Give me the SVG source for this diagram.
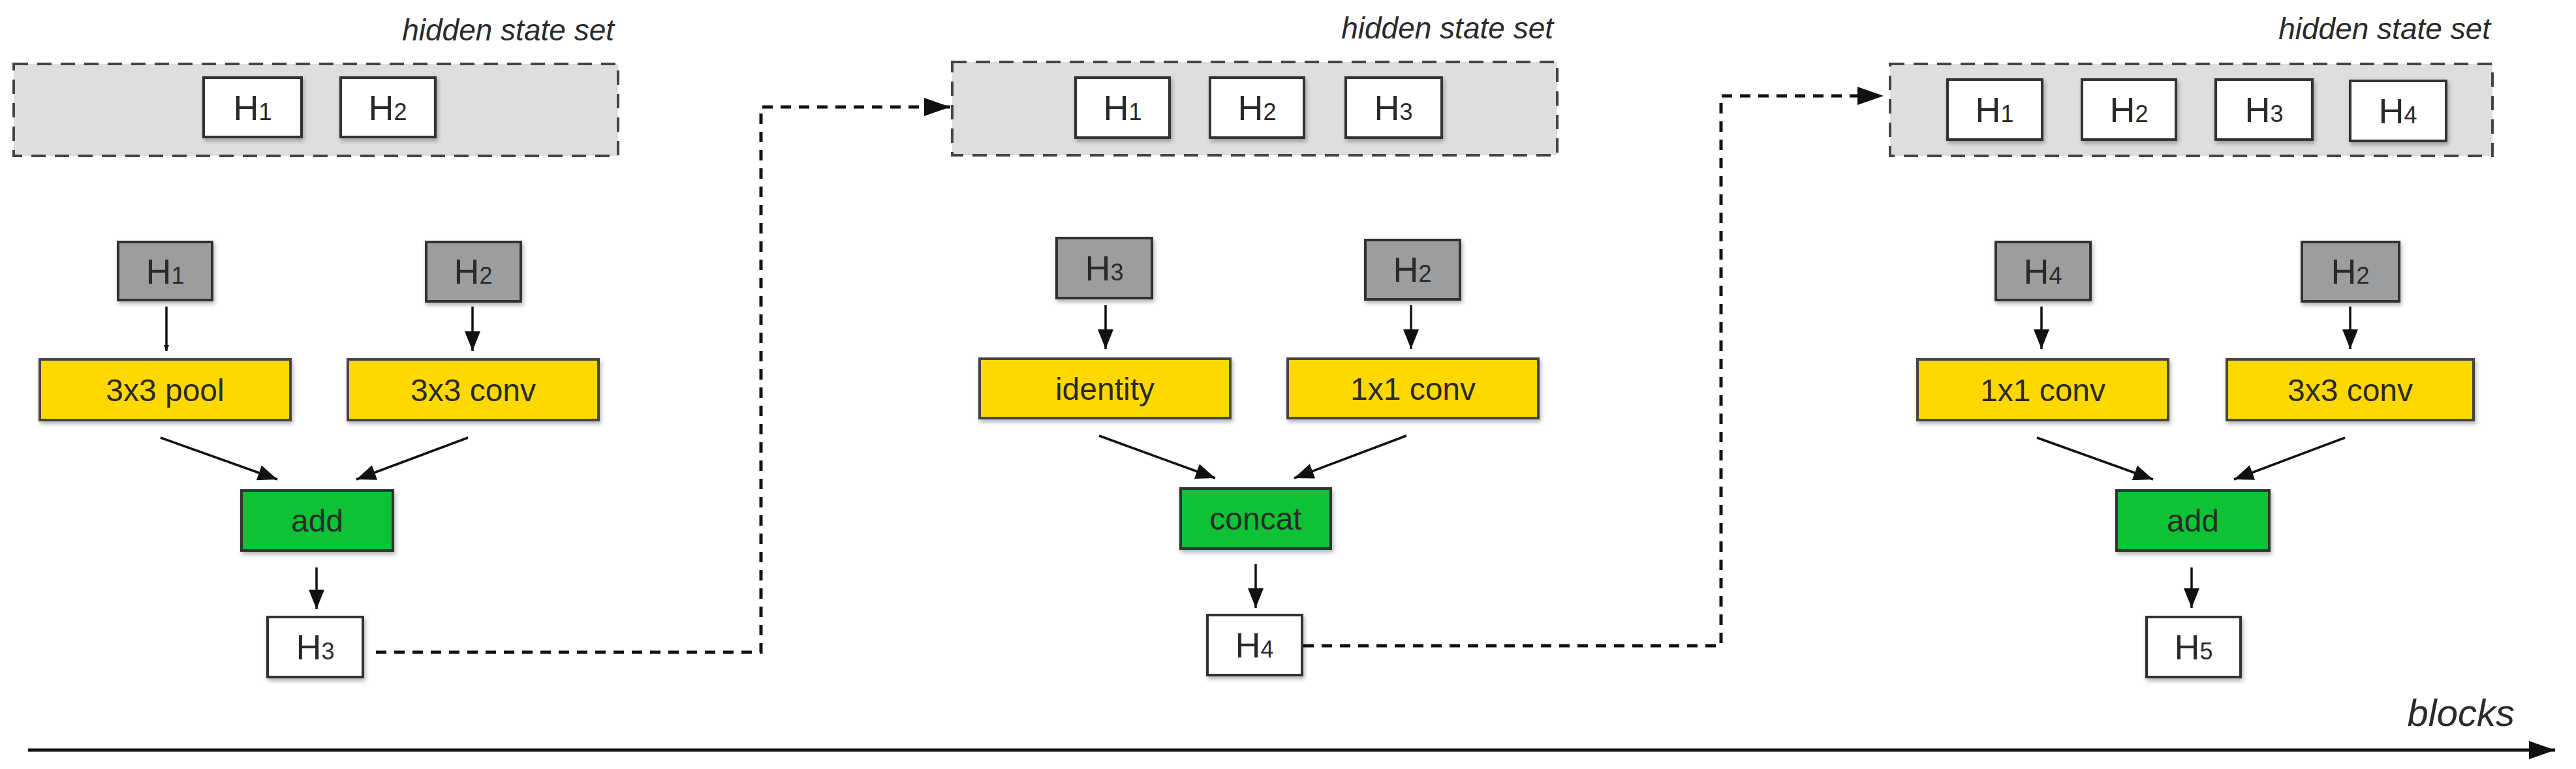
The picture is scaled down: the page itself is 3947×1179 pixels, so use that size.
<svg xmlns="http://www.w3.org/2000/svg" width="3947" height="1179" viewBox="0 0 3947 1179">
<style>
text{font-family:"Liberation Sans",Arial,sans-serif;fill:#2a2a2a;text-anchor:middle}
.set{fill:#dcdee0;stroke:#444;stroke-width:4;stroke-dasharray:22 14}
.w{fill:#fff;stroke:#333;stroke-width:4;filter:url(#sh)}
.g{fill:#9b9d9e;stroke:#333;stroke-width:4;filter:url(#sh)}
.y{fill:#ffd800;stroke:#444;stroke-width:4;filter:url(#sh)}
.gr{fill:#0fc236;stroke:#333;stroke-width:4;filter:url(#sh)}
.h{font-size:54px}
.s{font-size:36px}
.op{font-size:48px}
.title{font-size:46px;font-style:italic;text-anchor:end}
.c{stroke:#111;stroke-width:3.5;fill:none;marker-end:url(#a)}
.d{stroke:#111;stroke-width:5;fill:none;stroke-dasharray:16 12;marker-end:url(#b)}
</style>
<defs>
<filter id="sh" x="-10%" y="-10%" width="130%" height="140%"><feDropShadow dx="2" dy="4" stdDeviation="3" flood-opacity="0.3"/></filter>
<marker id="a" markerWidth="10" markerHeight="8" refX="9" refY="4" orient="auto" markerUnits="userSpaceOnUse" viewBox="0 0 10 8"><path d="M0,0L10,4L0,8z" fill="#111"/></marker>
<marker id="b" markerWidth="40" markerHeight="28" refX="40" refY="14" orient="auto" markerUnits="userSpaceOnUse"><path d="M0,0L40,14L0,28z" fill="#111"/></marker>
</defs>
<g id="connectors">
<line class="c" x1="255" y1="470" x2="255" y2="538" style="stroke-width:3.5" marker-end="url(#m)"/>
</g>
<defs><marker id="m" markerWidth="30" markerHeight="24" refX="30" refY="12" orient="auto" markerUnits="userSpaceOnUse"><path d="M0,0L30,12L0,24z" fill="#111"/></marker></defs>
<g id="conn" style="stroke:#111;stroke-width:3.5;fill:none" marker-end="url(#m)">
<line x1="724" y1="470" x2="724" y2="538"/>
<line x1="246" y1="671" x2="425" y2="735"/>
<line x1="717" y1="671" x2="546" y2="735"/>
<line x1="485" y1="870" x2="485" y2="934"/>
<line x1="1694" y1="468" x2="1694" y2="535"/>
<line x1="2162" y1="468" x2="2162" y2="535"/>
<line x1="1684" y1="668" x2="1862" y2="733"/>
<line x1="2155" y1="668" x2="1983" y2="733"/>
<line x1="1924" y1="865" x2="1924" y2="932"/>
<line x1="3128" y1="470" x2="3128" y2="535"/>
<line x1="3601" y1="470" x2="3601" y2="535"/>
<line x1="3121" y1="671" x2="3299" y2="735"/>
<line x1="3593" y1="671" x2="3423" y2="735"/>
<line x1="3358" y1="870" x2="3358" y2="932"/>
</g>
<g id="dashed">
<path class="d" d="M576,1000H1166V164H1456"/>
<path class="d" d="M1997,990H2637V147H2886"/>
</g>
<g id="axis">
<line x1="43" y1="1150" x2="3915" y2="1150" stroke="#111" stroke-width="5" marker-end="url(#b)"/>
<text x="3853" y="1113" style="font-size:58px;font-style:italic;text-anchor:end">blocks</text>
</g>
<g id="set1"><rect class="set" x="21" y="98" width="926" height="141"/><text class="title" x="941" y="62">hidden state set</text>
<rect class="w" x="312" y="119" width="150" height="91"/><text class="h" x="387" y="184">H<tspan class="s">1</tspan></text>
<rect class="w" x="522" y="119" width="145" height="91"/><text class="h" x="594" y="184">H<tspan class="s">2</tspan></text></g>
<g id="b1">
<rect class="g" x="181" y="371" width="144" height="89"/><text class="h" x="253" y="435">H<tspan class="s">1</tspan></text>
<rect class="g" x="653" y="371" width="145" height="91"/><text class="h" x="725" y="435">H<tspan class="s">2</tspan></text>
<rect class="y" x="61" y="551" width="384" height="93"/><text class="op" x="253" y="615">3x3 pool</text>
<rect class="y" x="533" y="551" width="384" height="93"/><text class="op" x="725" y="615">3x3 conv</text>
<rect class="gr" x="370" y="752" width="232" height="92"/><text class="op" x="486" y="815">add</text>
<rect class="w" x="410" y="946" width="146" height="92"/><text class="h" x="483" y="1011">H<tspan class="s">3</tspan></text>
</g>
<g id="set2"><rect class="set" x="1459" y="95" width="927" height="143"/><text class="title" x="2380" y="59">hidden state set</text>
<rect class="w" x="1648" y="119" width="144" height="92"/><text class="h" x="1720" y="184">H<tspan class="s">1</tspan></text>
<rect class="w" x="1854" y="119" width="144" height="92"/><text class="h" x="1926" y="184">H<tspan class="s">2</tspan></text>
<rect class="w" x="2062" y="119" width="147" height="92"/><text class="h" x="2135" y="184">H<tspan class="s">3</tspan></text></g>
<g id="b2">
<rect class="g" x="1619" y="365" width="146" height="92"/><text class="h" x="1692" y="430">H<tspan class="s">3</tspan></text>
<rect class="g" x="2092" y="368" width="145" height="91"/><text class="h" x="2164" y="432">H<tspan class="s">2</tspan></text>
<rect class="y" x="1501" y="550" width="384" height="91"/><text class="op" x="1693" y="613">identity</text>
<rect class="y" x="1973" y="550" width="384" height="91"/><text class="op" x="2165" y="613">1x1 conv</text>
<rect class="gr" x="1809" y="749" width="230" height="92"/><text class="op" x="1924" y="812">concat</text>
<rect class="w" x="1850" y="943" width="145" height="92"/><text class="h" x="1922" y="1008">H<tspan class="s">4</tspan></text>
</g>
<g id="set3"><rect class="set" x="2896" y="98" width="923" height="141"/><text class="title" x="3816" y="60">hidden state set</text>
<rect class="w" x="2984" y="122" width="145" height="92"/><text class="h" x="3056" y="187">H<tspan class="s">1</tspan></text>
<rect class="w" x="3190" y="122" width="144" height="92"/><text class="h" x="3262" y="187">H<tspan class="s">2</tspan></text>
<rect class="w" x="3395" y="122" width="148" height="92"/><text class="h" x="3469" y="187">H<tspan class="s">3</tspan></text>
<rect class="w" x="3601" y="124" width="147" height="92"/><text class="h" x="3674" y="189">H<tspan class="s">4</tspan></text></g>
<g id="b3">
<rect class="g" x="3058" y="371" width="145" height="89"/><text class="h" x="3130" y="435">H<tspan class="s">4</tspan></text>
<rect class="g" x="3527" y="371" width="149" height="91"/><text class="h" x="3601" y="435">H<tspan class="s">2</tspan></text>
<rect class="y" x="2938" y="551" width="384" height="93"/><text class="op" x="3130" y="615">1x1 conv</text>
<rect class="y" x="3412" y="551" width="378" height="93"/><text class="op" x="3601" y="615">3x3 conv</text>
<rect class="gr" x="3243" y="752" width="234" height="92"/><text class="op" x="3360" y="815">add</text>
<rect class="w" x="3289" y="946" width="144" height="92"/><text class="h" x="3361" y="1011">H<tspan class="s">5</tspan></text>
</g>
</svg>
